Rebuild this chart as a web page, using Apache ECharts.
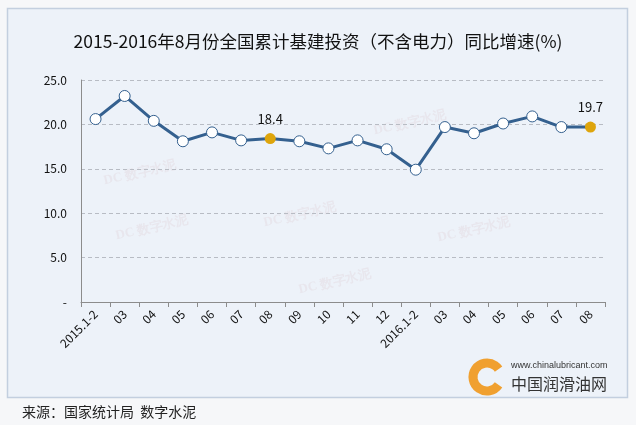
<!DOCTYPE html>
<html>
<head>
<meta charset="utf-8">
<script src="https://cdn.jsdelivr.net/npm/echarts@6/dist/echarts.min.js"></script>
<style>
html,body{margin:0;padding:0;background:#f6f7f9;}
#c{width:636px;height:425px;}
</style>
</head>
<body>
<div id="c"></div>
<script>
var categories = ['2015.1-2','03','04','05','06','07','08','09','10','11','12','2016.1-2','03','04','05','06','07','08'];
var values = [20.6, 23.2, 20.4, 18.1, 19.1, 18.2, 18.4, 18.1, 17.3, 18.2, 17.2, 14.9, 19.7, 19.0, 20.1, 20.9, 19.7, 19.7];
var highlighted = [6, 17];
var yTicks = [0, 5, 10, 15, 20, 25];

var font = '"Noto Sans CJK SC", "Noto Sans", sans-serif';
var chart = echarts.init(document.getElementById('c'));

var seriesData = values.map(function (v, i) {
  if (highlighted.indexOf(i) >= 0) {
    return {
      value: v,
      symbolSize: 11,
      itemStyle: { color: '#dea50c', borderWidth: 0 },
      label: { show: true, position: 'top', distance: 8, formatter: function (p) { return p.value.toFixed(1); },
        color: '#111', fontSize: 13, fontFamily: font }
    };
  }
  return v;
});

var wm = [[140,173],[152,228],[300,215],[335,282],[410,123],[474,230]];
var graphics = [
  { type: 'rect', shape: { x: 7.5, y: 8.5, width: 620, height: 389 }, style: { fill: '#edf2f9', stroke: '#c3cfdf', lineWidth: 1.5 }, z: -10 }
];
wm.forEach(function (p) {
  graphics.push({ type: 'text', x: p[0], y: p[1], rotation: 0.22, style: { text: 'DC 数字水泥', fill: 'rgba(205,160,170,0.14)', font: 'bold 13px serif', textAlign: 'center', textVerticalAlign: 'middle' }, z: -5 });
});
graphics.push(
  { type: 'arc', shape: { cx: 487, cy: 377, r: 14, startAngle: 0.6, endAngle: -0.6, clockwise: true }, style: { stroke: '#f0a030', lineWidth: 9, fill: null } },
  { type: 'text', x: 511, y: 366, style: { text: 'www.chinalubricant.com', fill: '#333', font: '9px "Liberation Sans Narrow", "Liberation Sans", sans-serif', textVerticalAlign: 'middle' } },
  { type: 'text', x: 511, y: 384, style: { text: '中国润滑油网', fill: '#333', font: '16px ' + font, textVerticalAlign: 'middle' } },
  { type: 'text', x: 22, y: 412, style: { text: '来源：国家统计局  数字水泥', fill: '#222', font: '14px ' + font, textVerticalAlign: 'middle' } }
);

chart.setOption({
  backgroundColor: 'transparent',
  animation: false,
  title: {
    text: '2015-2016年8月份全国累计基建投资（不含电力）同比增速(%)',
    left: 'center', top: 28,
    textStyle: { color: '#111', fontSize: 17.5, fontWeight: 'normal', fontFamily: font }
  },
  grid: { left: 81, right: 31, top: 80, bottom: 123 },
  xAxis: {
    type: 'category',
    data: categories,
    boundaryGap: true,
    axisLine: { lineStyle: { color: '#8c8c8c', width: 1 } },
    axisTick: { show: true, lineStyle: { color: '#8c8c8c' }, length: 5 },
    axisLabel: { rotate: 45, color: '#111', fontSize: 12, fontFamily: font, interval: 0, margin: 10 }
  },
  yAxis: {
    type: 'value',
    min: yTicks[0], max: yTicks[yTicks.length - 1], interval: 5,
    axisLine: { show: true, lineStyle: { color: '#8c8c8c' } },
    axisTick: { show: false },
    splitLine: { lineStyle: { color: '#b8bcc4', type: [4, 3] } },
    axisLabel: { color: '#111', fontSize: 12, fontFamily: font, margin: 14,
      formatter: function (v) { return v === 0 ? '-' : v.toFixed(1); } }
  },
  series: [{
    type: 'line',
    data: seriesData,
    symbol: 'circle',
    symbolSize: 11,
    lineStyle: { color: '#34608f', width: 3 },
    itemStyle: { color: '#ffffff', borderColor: '#34608f', borderWidth: 1 },
    z: 3
  }],
  graphic: graphics
});
</script>
</body>
</html>
